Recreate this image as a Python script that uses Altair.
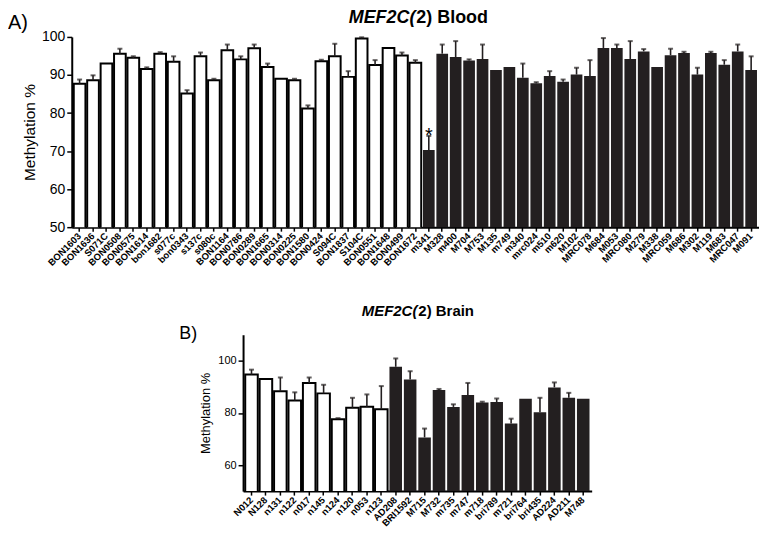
import altair as alt
import pandas as pd

# ---------------- data ----------------
blood_ids = ["BON1603", "BON1636", "S071C", "BON0508", "BON0575", "BON1614", "bon1682", "s077c",
             "bon0343", "s137c", "s080c", "BON1164", "BON0786", "BON0289", "BON1665", "BON0314",
             "BON0225", "BON1580", "BON0424", "S094C", "BON1837", "S104C", "BON0551", "BON1648",
             "BON0499", "BON1672",
             "m341", "M328", "m400", "M704", "M753", "M135", "m749", "m340", "mrc024", "m510",
             "m620", "M102", "MRC078", "M684", "M053", "MRC080", "M279", "M338", "MRC059", "M686",
             "M302", "M119", "M683", "MRC047", "M091"]
blood_vals = [87.7, 88.6, 93.0, 95.6, 94.5, 91.6, 95.6, 93.5, 85.1, 94.9, 88.6, 96.5, 94.1, 97.0,
              92.1, 89.0, 88.6, 81.2, 93.6, 94.9, 89.5, 99.6, 92.6, 97.1, 95.1, 93.2,
              70.3, 95.6, 94.7, 93.8, 94.2, 91.3, 92.1, 89.3, 87.8, 89.7, 88.2, 90.1, 89.7, 97.1,
              97.1, 94.2, 96.2, 92.1, 95.2, 95.8, 90.1, 95.8, 92.7, 96.2, 91.3]
blood_err = [1.1, 1.3, 0, 1.3, 0.4, 0.4, 0.4, 1.4, 0.9, 1.0, 0.4, 1.5, 0.8, 1.0, 0.9, 0, 0.4, 0.8,
             0.4, 3.3, 1.5, 0.3, 1.3, 0, 0.8, 0.7,
             3.7, 2.4, 4.2, 0.3, 3.8, 0, 0, 3.7, 0.3, 1.3, 0.6, 1.8, 4.2, 2.6, 0.9, 4.7, 0.6, 0,
             1.7, 0.3, 1.8, 0.3, 1.2, 1.8, 3.6]
blood_group = ["control"] * 26 + ["case"] * 25

brain_ids = ["N012", "N128", "n131", "n122", "n017", "n145", "n124", "n120", "n053", "n123",
             "AD208", "BRI1592", "M715", "M732", "m735", "m747", "m718", "bri789", "m721",
             "bri764", "bri435", "AD224", "AD211", "M748"]
brain_vals = [94.7, 93.0, 88.3, 84.8, 91.5, 87.5, 77.6, 82.0, 82.4, 81.4,
              97.7, 92.8, 70.6, 88.8, 82.3, 86.9, 84.0, 84.2, 75.9, 85.4, 80.3, 89.8, 85.8, 85.4]
brain_err = [1.9, 0, 5.3, 3.1, 2.1, 3.3, 0.4, 3.8, 4.7, 8.9,
             3.2, 3.2, 3.4, 0.4, 1.0, 4.6, 0.3, 1.3, 1.9, 0, 5.5, 1.9, 1.9, 0]
brain_group = ["control"] * 10 + ["case"] * 14

DARK = "#231f20"
FONT = "Liberation Sans"


def make_df(ids, vals, errs, groups):
    df = pd.DataFrame({"id": ids, "val": vals, "err": errs, "group": groups})
    df["top"] = df["val"] + df["err"]
    return df


def panel(df, width, height, domain, ticks, label_size, tick_size, title_size,
          axis_title_size, title_x, title_y, word, letter, letter_x, letter_y, letter_size,
          star=None, title_pad=8):
    order = list(df["id"])
    xscale = alt.Scale(paddingInner=0.13, paddingOuter=0.15)
    xaxis = alt.Axis(labelAngle=-45, labelAlign="right", labelBaseline="middle",
                     labelFontSize=label_size, labelFont=FONT, labelFontWeight="bold",
                     labelColor="black", labelPadding=3, labelOverlap=False,
                     tickSize=4, tickWidth=1.5,
                     tickColor="black", domainColor="black", domainWidth=2)
    yscale = alt.Scale(domain=domain, nice=False, zero=False)
    yaxis = alt.Axis(values=ticks, grid=False, labelFontSize=tick_size, labelFont=FONT,
                     labelColor="black", labelOverlap=False, tickSize=5, tickWidth=1.5,
                     tickColor="black", domainColor="black", domainWidth=2,
                     titleFont=FONT, titleFontSize=axis_title_size, titleFontWeight="normal",
                     titleColor="black", titlePadding=title_pad)

    def X():
        return alt.X("id:N", sort=order, title=None, scale=xscale, axis=xaxis)

    def Y(field):
        return alt.Y(field, title="Methylation %", scale=yscale, axis=yaxis)

    base = alt.Chart(df)
    bars = base.mark_bar(clip=True).encode(
        x=X(), y=Y("val:Q"),
        fill=alt.Fill("group:N", scale=alt.Scale(domain=["control", "case"], range=["white", DARK]),
                      legend=None),
        stroke=alt.Stroke("group:N", scale=alt.Scale(domain=["control", "case"], range=["black", DARK]),
                          legend=None),
        strokeWidth=alt.StrokeWidth("group:N", scale=alt.Scale(domain=["control", "case"], range=[2, 0.01]),
                                    legend=None),
    )
    errs = base.transform_filter("datum.err > 0").mark_rule(color=DARK, strokeWidth=1.6).encode(
        x=X(), y=Y("val:Q"), y2="top:Q")
    caps = base.transform_filter("datum.err > 0").mark_tick(color=DARK, thickness=2, size=5).encode(
        x=X(), y=Y("top:Q"))
    first = "datum.id == '%s'" % order[0]
    t1 = base.transform_filter(first).mark_text(
        text="MEF2C(", font=FONT, fontSize=title_size, fontWeight="bold", fontStyle="italic",
        align="right", baseline="alphabetic", color="black").encode(
        x=alt.value(title_x), y=alt.value(title_y))
    t2 = base.transform_filter(first).mark_text(
        text="2) " + word, font=FONT, fontSize=title_size, fontWeight="bold",
        align="left", baseline="alphabetic", color="black").encode(
        x=alt.value(title_x + 1), y=alt.value(title_y))
    lab = base.transform_filter(first).mark_text(
        text=letter, font=FONT, fontSize=letter_size, align="left", baseline="middle",
        color="black").encode(
        x=alt.value(letter_x), y=alt.value(letter_y))
    layers = [bars, errs, caps, t1, t2, lab]
    if star:
        st = base.transform_filter("datum.id == '%s'" % star).mark_text(
            text="*", font=FONT, fontSize=20, baseline="alphabetic", dy=6, color="black").encode(
            x=X(), y=Y("top:Q"))
        layers.append(st)
    return alt.layer(*layers).properties(width=width, height=height)


blood = make_df(blood_ids, blood_vals, blood_err, blood_group)
brain = make_df(brain_ids, brain_vals, brain_err, brain_group)

top = panel(blood, 690, 191, [50, 100], [50, 60, 70, 80, 90, 100], 9.5, 14, 18, 15.5,
            345, -14, "Blood", "A)", -64, -14, 20, star="m341", title_pad=4)
bottom = panel(brain, 350, 157, [50, 110], [60, 80, 100], 9.5, 11, 15, 13,
               175, -19, "Brain", "B)", -64, -1, 18, title_pad=5)

spacer = alt.Chart(pd.DataFrame({"a": [0]})).mark_point(opacity=0).encode(
    x=alt.X("a:Q", axis=None), y=alt.Y("a:Q", axis=None)).properties(width=88, height=10)

chart = alt.vconcat(top, alt.hconcat(spacer, bottom, spacing=20), spacing=36).properties(
    padding={"left": 0, "top": 0, "right": 0, "bottom": 0}
).configure(background="white").configure_view(stroke="transparent", strokeWidth=0)

chart.save("out.html", embed_options={"renderer": "svg", "actions": False})
